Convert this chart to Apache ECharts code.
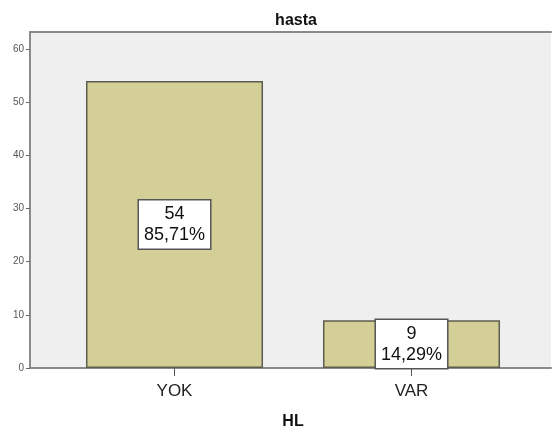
<!DOCTYPE html>
<html>
<head>
<meta charset="utf-8">
<script src="https://cdn.jsdelivr.net/npm/echarts@6/dist/echarts.min.js"></script>
<style>
  html, body { margin: 0; padding: 0; background: #fff; }
  #chart { width: 552px; height: 436px; }
</style>
</head>
<body>
<div id="chart"></div>
<script>
// HL distribution for the "hasta" group
const categories = ['YOK', 'VAR'];
const counts = [54, 9];
const yTicks = [0, 10, 20, 30, 40, 50, 60];

const total = counts.reduce((a, b) => a + b, 0);
const pctText = v => (v / total * 100).toFixed(2).replace('.', ',') + '%';

const FONT = 'Arial, "Liberation Sans", sans-serif';
const Y_MAX = 63.2;

const chart = echarts.init(document.getElementById('chart'), null, { renderer: 'canvas' });

chart.setOption({
  animation: false,
  backgroundColor: '#ffffff',
  title: {
    text: 'hasta',
    left: 291,
    top: 8,
    textAlign: 'center',
    textStyle: { fontFamily: FONT, fontSize: 16, fontWeight: 'bold', color: '#111' }
  },
  grid: [
    // plot frame with shaded background
    { left: 30, top: 32, right: 1, bottom: 68, show: true, backgroundColor: '#efefef', borderWidth: 0 },
    // bars area
    { left: 56, top: 32, right: 22, bottom: 68 }
  ],
  xAxis: [
    {
      gridIndex: 0, type: 'value', min: 0, max: 1,
      axisLine: { show: true, onZero: false, lineStyle: { color: '#8a8a8a', width: 2 } },
      axisTick: { show: false }, axisLabel: { show: false }, splitLine: { show: false }
    },
    {
      gridIndex: 0, type: 'value', min: 0, max: 1, position: 'top',
      axisLine: { show: true, onZero: false, lineStyle: { color: '#8a8a8a', width: 2 } },
      axisTick: { show: false }, axisLabel: { show: false }, splitLine: { show: false }
    },
    {
      gridIndex: 1, type: 'category', data: categories, boundaryGap: true,
      axisLine: { show: false },
      axisTick: { show: true, alignWithLabel: true, length: 8, lineStyle: { color: '#555', width: 1 } },
      axisLabel: { margin: 15, fontFamily: FONT, fontSize: 17, color: '#222' },
      name: 'HL', nameLocation: 'middle', nameGap: 46,
      nameTextStyle: { fontFamily: FONT, fontSize: 16, fontWeight: 'bold', color: '#111' }
    }
  ],
  yAxis: [
    {
      gridIndex: 0, type: 'value', min: 0, max: Y_MAX,
      axisLine: { show: true, onZero: false, lineStyle: { color: '#8a8a8a', width: 2 } },
      axisTick: { show: true, length: 4, customValues: yTicks, lineStyle: { color: '#666', width: 1 } },
      axisLabel: { customValues: yTicks, margin: 6, fontFamily: FONT, fontSize: 10, color: '#555' },
      splitLine: { show: false }
    },
    {
      gridIndex: 1, type: 'value', min: 0, max: Y_MAX, show: false
    }
  ],
  series: [
    {
      type: 'bar',
      xAxisIndex: 2,
      yAxisIndex: 1,
      data: counts,
      barWidth: '74.7%',
      itemStyle: { color: '#d3cf96', borderColor: '#5e5e4e', borderWidth: 1.5 },
      label: {
        show: true,
        position: 'inside',
        formatter: p => p.value + '\n' + pctText(p.value),
        fontFamily: FONT,
        fontSize: 18,
        lineHeight: 21,
        color: '#111',
        align: 'center',
        backgroundColor: '#ffffff',
        borderColor: '#555',
        borderWidth: 1.5,
        padding: [3, 5, 3, 5]
      }
    }
  ]
});
</script>
</body>
</html>
